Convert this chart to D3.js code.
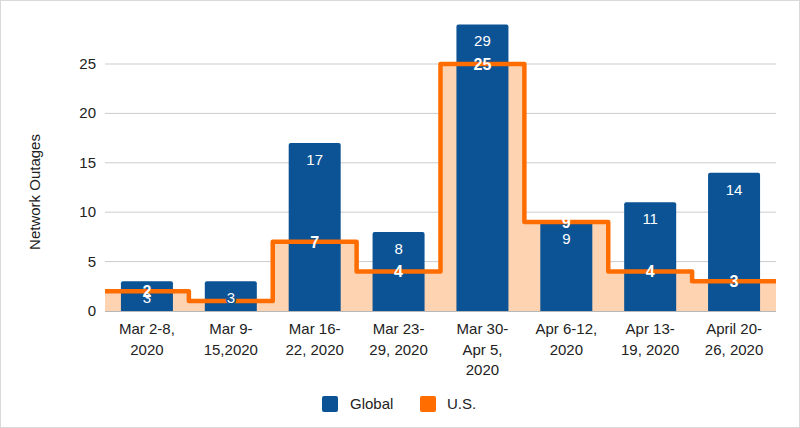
<!DOCTYPE html>
<html><head><meta charset="utf-8">
<script src="https://cdn.jsdelivr.net/npm/d3@7"></script>
<style>body{margin:0;background:#fff}svg{display:block;font-family:"Liberation Sans",Arial,sans-serif}</style>
</head><body><svg id="c" width="800" height="428"></svg>
<script>
const categories = [["Mar 2-8,","2020"],["Mar 9-","15,2020"],["Mar 16-","22, 2020"],["Mar 23-","29, 2020"],["Mar 30-","Apr 5,","2020"],["Apr 6-12,","2020"],["Apr 13-","19, 2020"],["April 20-","26, 2020"]];
const globalValues = [3,3,17,8,29,9,11,14];
const usValues = [2,1,7,4,25,9,4,3];
const yTicks = [0,5,10,15,20,25];
const seriesNames = ["Global","U.S."];
const colors = {global:"#0b5394", us:"#ff6d01", area:"#fed3b1"};

const svg = d3.select("#c");
svg.append("rect").attr("x",0.5).attr("y",0.5).attr("width",799).attr("height",427).attr("fill","#fff").attr("stroke","#d9d9d9");

const L=105, R=776;
const y = d3.scaleLinear().domain([0,25]).range([311,64]);
const idx = d3.range(categories.length);
const x = d3.scaleBand().domain(idx).range([L,R]).paddingInner(0.38).paddingOuter(0.19);
const xs = d3.scaleLinear().domain([0,categories.length]).range([L,R]);

// gridlines
svg.append("g").selectAll("line").data(yTicks.filter(d=>d>0)).join("line")
  .attr("x1",L).attr("x2",R).attr("y1",d=>y(d)).attr("y2",d=>y(d)).attr("stroke","#cccccc").attr("stroke-width",1);
svg.append("g").selectAll("text").data(yTicks).join("text")
  .attr("x",96).attr("y",d=>y(d)+5).attr("text-anchor","end").attr("font-size",15).attr("fill","#222").text(d=>d);

// area (stepped)
const stepPts = [];
usValues.forEach((v,i)=>{stepPts.push([xs(i),v]);stepPts.push([xs(i+1),v]);});
svg.append("path").datum(stepPts)
  .attr("d",d3.area().x(d=>d[0]).y0(y(0)).y1(d=>y(d[1])))
  .attr("fill",colors.area);

// bars
svg.append("g").selectAll("path").data(idx).join("path")
  .attr("d",i=>{const x0=x(i),w=x.bandwidth(),y0=y(globalValues[i]),b=y(0),r=2;
    return `M${x0},${b}V${y0+r}Q${x0},${y0} ${x0+r},${y0}H${x0+w-r}Q${x0+w},${y0} ${x0+w},${y0+r}V${b}Z`;})
  .attr("fill",colors.global);

// baseline
svg.append("line").attr("x1",L).attr("x2",R).attr("y1",y(0)+0.5).attr("y2",y(0)+0.5).attr("stroke","#b7b7b7");

// us line
svg.append("path").datum(stepPts)
  .attr("d",d3.line().x(d=>d[0]).y(d=>y(d[1])))
  .attr("fill","none").attr("stroke",colors.us).attr("stroke-width",4.5).attr("stroke-linejoin","round");

// us labels
svg.append("g").selectAll("text").data(idx.filter(i=>i!==1)).join("text")
  .attr("x",i=>x(i)+x.bandwidth()/2).attr("y",i=>y(usValues[i])+6)
  .attr("text-anchor","middle").attr("font-size",16).attr("font-weight","bold").attr("fill","#fff").text(i=>usValues[i]);

// global labels (with halo)
svg.append("g").selectAll("text").data(idx).join("text")
  .attr("x",i=>x(i)+x.bandwidth()/2).attr("y",i=>y(globalValues[i])+22)
  .attr("text-anchor","middle").attr("font-size",15).attr("fill","#fff")
  .attr("stroke",colors.global).attr("stroke-width",i=>i===1?3:0).attr("paint-order","stroke")
  .text(i=>globalValues[i]);

// x labels
const xl = svg.append("g").selectAll("text").data(idx).join("text")
  .attr("x",i=>x(i)+x.bandwidth()/2).attr("y",334).attr("text-anchor","middle").attr("font-size",15).attr("fill","#222");
xl.selectAll("tspan").data(i=>categories[i].map(t=>({t,cx:x(i)+x.bandwidth()/2}))).join("tspan")
  .attr("x",d=>d.cx).attr("dy",(d,j)=>j?20.5:0).text(d=>d.t);

// y title
svg.append("text").attr("transform","translate(40,192) rotate(-90)").attr("text-anchor","middle")
  .attr("font-size",15).attr("fill","#222").text("Network Outages");

// legend
const lg = svg.append("g");
[[322,colors.global,seriesNames[0],350],[420,colors.us,seriesNames[1],447]].forEach(([sx,c,t,tx])=>{
  lg.append("rect").attr("x",sx).attr("y",396).attr("width",16).attr("height",16).attr("rx",2).attr("fill",c);
  lg.append("text").attr("x",tx).attr("y",409).attr("font-size",15).attr("fill","#222").text(t);
});
</script></body></html>
